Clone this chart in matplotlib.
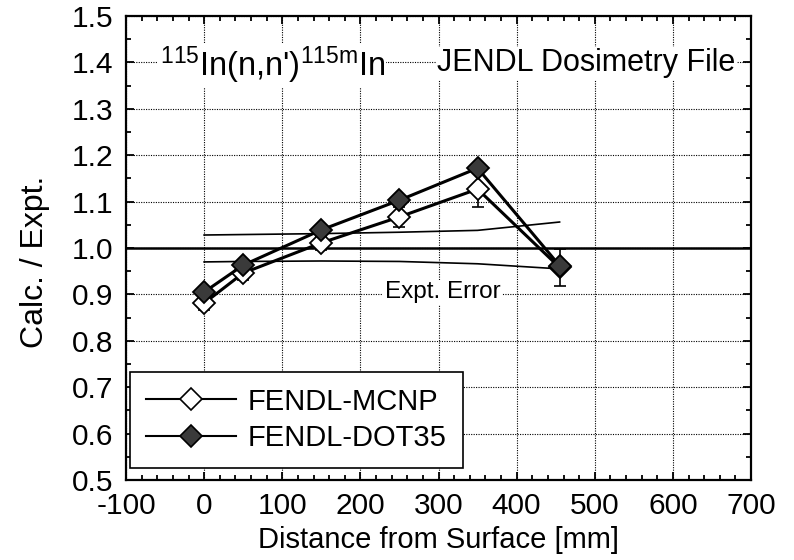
import matplotlib.pyplot as plt
from matplotlib.lines import Line2D
from matplotlib.ticker import MultipleLocator

plt.rcParams['font.family'] = ['Liberation Sans', 'DejaVu Sans']
plt.rcParams['mathtext.fontset'] = 'custom'
plt.rcParams['mathtext.rm'] = 'Liberation Sans'
plt.rcParams['mathtext.default'] = 'regular'
plt.rcParams['axes.unicode_minus'] = False

# calc / expt ratios along the assembly depth
distance = [0, 50, 150, 250, 350, 455]
mcnp = [0.881, 0.946, 1.011, 1.067, 1.127, 0.958]
mcnp_err = [0.015, 0.015, 0.015, 0.022, 0.039, 0.039]
dot35 = [0.905, 0.963, 1.039, 1.103, 1.172, 0.962]

# experimental error band around unity
band_x = [0, 50, 150, 250, 350, 455]
band_upper = [1.028, 1.029, 1.031, 1.034, 1.038, 1.056]
band_lower = [0.970, 0.971, 0.972, 0.971, 0.966, 0.955]

fig = plt.figure(figsize=(7.94, 5.6), dpi=100)
ax = fig.add_axes([126 / 794, 1 - 480 / 560, 625 / 794, 464 / 560])

ax.set_xlim(-100, 700)
ax.set_ylim(0.5, 1.5)
ax.xaxis.set_major_locator(MultipleLocator(100))
ax.xaxis.set_minor_locator(MultipleLocator(20))
ax.yaxis.set_major_locator(MultipleLocator(0.1))
ax.yaxis.set_minor_locator(MultipleLocator(0.05))
ax.yaxis.set_major_formatter(plt.FormatStrFormatter('%.1f'))
ax.tick_params(which='both', direction='in', top=True, right=True, width=1.3)
ax.tick_params(which='major', length=6, labelsize=21.5, pad=9)
ax.tick_params(which='minor', length=3.5)
for sp in ax.spines.values():
    sp.set_linewidth(1.6)

ax.grid(True, which='major', linestyle=(0, (1, 1.2)), linewidth=0.8, color='black')

ax.axhline(1.0, color='black', lw=1.8, zorder=2)
ax.plot(band_x, band_upper, color='black', lw=1.2, zorder=2)
ax.plot(band_x, band_lower, color='black', lw=1.2, zorder=2)

ax.errorbar(distance, mcnp, yerr=mcnp_err, fmt='none', ecolor='black',
            elinewidth=1.2, capsize=4, capthick=1.2, zorder=3)
ax.plot(distance, mcnp, color='black', lw=2.2, marker='D', markersize=11,
        markerfacecolor='white', markeredgecolor='black', markeredgewidth=1.3, zorder=4)
ax.plot(distance, dot35, color='black', lw=2.2, marker='D', markersize=11,
        markerfacecolor='#3a3a3a', markeredgecolor='black', markeredgewidth=1.3, zorder=5)

txt_box = dict(facecolor='white', edgecolor='none', pad=1)
ax.text(-57, 1.393, "$^{115}$In(n,n')$^{115m}$In", fontsize=23.5, va='center',
        ha='left', bbox=txt_box, zorder=6)
ax.text(680, 1.398, 'JENDL Dosimetry File', fontsize=22, va='center', ha='right',
        bbox=txt_box, zorder=6)
ax.text(379, 0.905, 'Expt. Error', fontsize=17.5, va='center', ha='right',
        bbox=txt_box, zorder=6)

handles = [
    Line2D([], [], color='black', lw=1.5, marker='D', markersize=11,
           markerfacecolor='white', markeredgecolor='black', markeredgewidth=1.2),
    Line2D([], [], color='black', lw=1.5, marker='D', markersize=11,
           markerfacecolor='#3a3a3a', markeredgecolor='black', markeredgewidth=1.2),
]
leg = ax.legend(handles, ['FENDL-MCNP', 'FENDL-DOT35'], loc='lower left',
                bbox_to_anchor=(0.006, 0.025), borderaxespad=0, fontsize=21,
                handlelength=3.1, handletextpad=0.4, labelspacing=0.3,
                borderpad=0.55, fancybox=False, framealpha=1, edgecolor='black')
leg.get_frame().set_linewidth(1.2)
leg.set_zorder(7)

ax.set_xlabel('Distance from Surface [mm]', fontsize=21, labelpad=4)
ax.set_ylabel('Calc. / Expt.', fontsize=23)
ax.yaxis.set_label_coords(-0.122, 0.47)

fig.savefig('out.png', dpi=100)
